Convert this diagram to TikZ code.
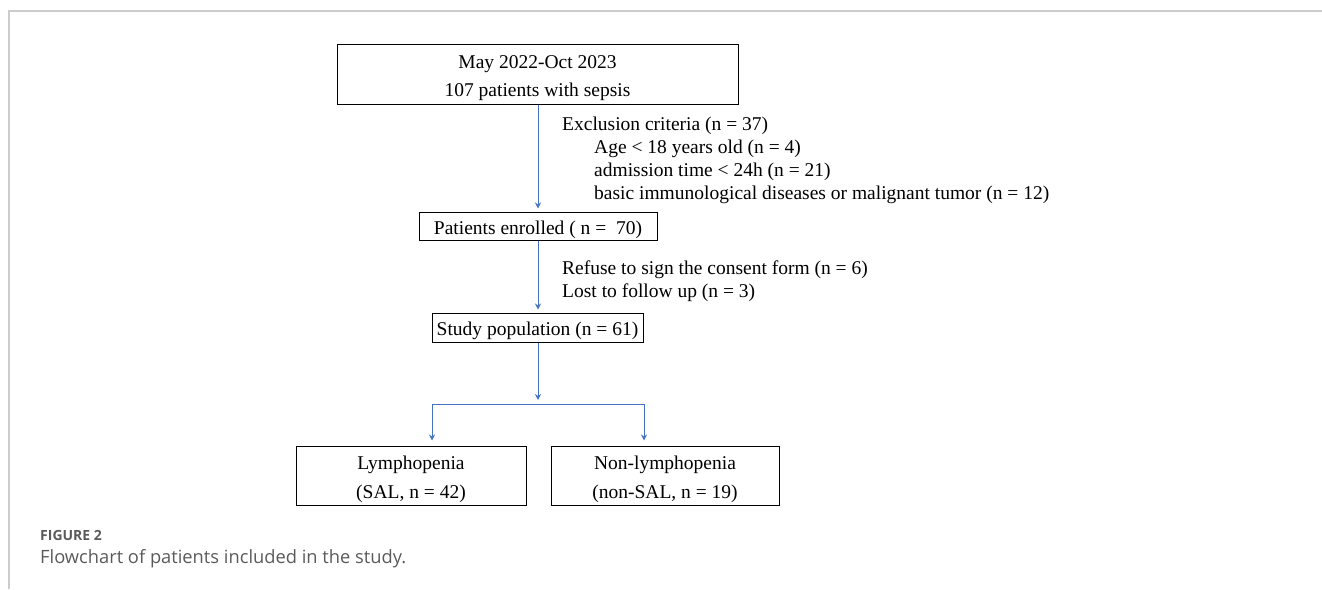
\documentclass[tikz,border=0pt]{standalone}
\usepackage{fontspec}
\setmainfont{Liberation Serif}
\newfontfamily\capfont{Open Sans}
\usetikzlibrary{arrows.meta}
\definecolor{flowblue}{RGB}{68,114,196}
\definecolor{capgrey}{RGB}{90,90,90}
\definecolor{framegrey}{RGB}{204,204,204}
\newcommand\boxstrut{\rule[-4.5pt]{0pt}{25pt}}
\tikzset{
  box/.style={draw=black,line width=1pt,align=center,inner sep=0pt,
    font=\fontsize{19.5}{28}\selectfont},
  note/.style={anchor=north west,align=left,inner sep=0pt,
    font=\fontsize{19.5}{23}\selectfont},
  link/.style={draw=flowblue,line width=1pt},
  arrow/.style={link,-{Stealth[length=6pt,width=6pt]}}
}
\begin{document}
\begin{tikzpicture}[x=1pt,y=-1pt]
    \useasboundingbox (0,0) rectangle (1322,589);
    % frame of the figure
    \draw[framegrey,line width=1.5pt] (9,589)--(9,11)--(1322,11);
    % boxes
    \node[box,minimum width=401pt,minimum height=60pt] (start) at (537.5,74) {\boxstrut May 2022-Oct 2023\\\boxstrut 107 patients with sepsis};
    \node[box,minimum width=238pt,minimum height=28pt] (enrol) at (538,226) {\boxstrut Patients enrolled ( n =\ \ 70)};
    \node[box,minimum width=211pt,minimum height=29pt] (pop) at (537.5,327.5) {\boxstrut Study population (n = 61)};
    \node[box,minimum width=230pt,minimum height=59pt,font=\fontsize{19.5}{29}\selectfont] (sal) at (411,475.5) {\boxstrut Lymphopenia\\\boxstrut (SAL, n = 42)};
    \node[box,minimum width=228pt,minimum height=59pt,font=\fontsize{19.5}{29}\selectfont] (nsal) at (665,475.5) {\boxstrut Non-lymphopenia\\\boxstrut (non-SAL, n = 19)};
    % exclusions
    \node[note] (excl) at (562,117) {Exclusion criteria (n = 37)\\
      \hspace*{32pt}Age < 18 years old (n = 4)\\
      \hspace*{32pt}admission time < 24h (n = 21)\\
      \hspace*{32pt}basic immunological diseases or malignant tumor (n = 12)};
    \node[note] (lost) at (562,261) {Refuse to sign the consent form (n = 6)\\Lost to follow up (n = 3)};
    % arrows
    \coordinate (split) at (538,404);
    \coordinate (brL) at (432,404);
    \coordinate (brR) at (644,404);
    \draw[arrow] (start.south -| enrol.north) -- ([yshift=3pt]enrol.north);
    \draw[arrow] (enrol.south) -- ([yshift=3pt]pop.north -| enrol.south);
    \draw[arrow] (pop.south -| split) -- ([yshift=4pt]split);
    \draw[link] (brL) -- (brR);
    \draw[arrow] (brL) -- ([yshift=5pt]brL |- sal.north);
    \draw[arrow] (brR) -- ([yshift=5pt]brR |- nsal.north);
    % caption
    \node[anchor=base west,inner sep=0pt,text=capgrey,font=\capfont\bfseries\fontsize{14}{16}\selectfont] (fig) at (40,540) {FIGURE 2};
    \node[anchor=base west,inner sep=0pt,text=capgrey,font=\capfont\fontsize{18.3}{20}\selectfont] (cap) at (40,563) {Flowchart of patients included in the study.};
\end{tikzpicture}
\end{document}
